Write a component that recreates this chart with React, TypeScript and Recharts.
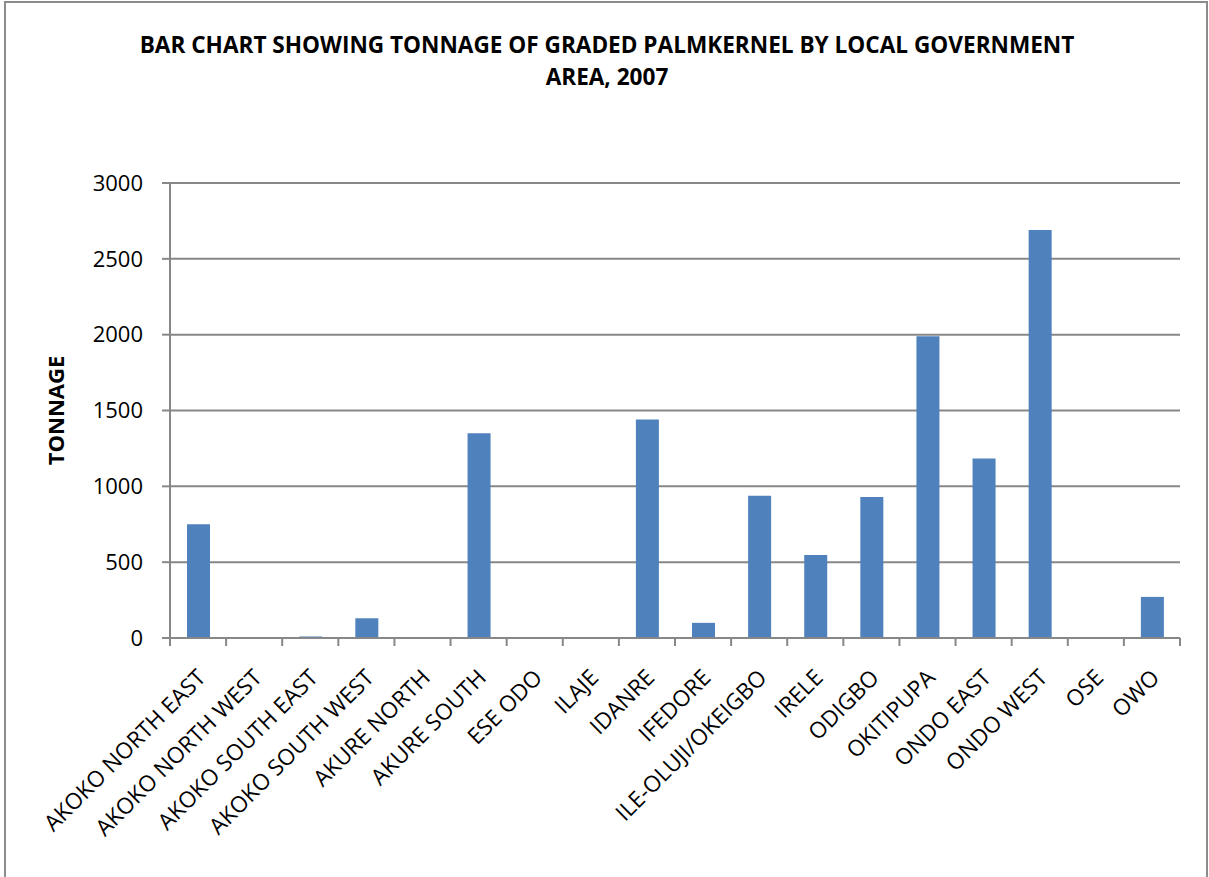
import { BarChart, Bar, XAxis, YAxis, CartesianGrid } from 'recharts';

const areas = [
  'AKOKO NORTH EAST',
  'AKOKO NORTH WEST',
  'AKOKO SOUTH EAST',
  'AKOKO SOUTH WEST',
  'AKURE NORTH',
  'AKURE SOUTH',
  'ESE ODO',
  'ILAJE',
  'IDANRE',
  'IFEDORE',
  'ILE-OLUJI/OKEIGBO',
  'IRELE',
  'ODIGBO',
  'OKITIPUPA',
  'ONDO EAST',
  'ONDO WEST',
  'OSE',
  'OWO',
];

const tonnage = [750, 0, 10, 130, 0, 1350, 0, 0, 1440, 100, 938, 548, 930, 1990, 1183, 2690, 0, 271];

const yTicks = [0, 500, 1000, 1500, 2000, 2500, 3000];

const data = areas.map((name, i) => ({ name, value: tonnage[i] }));

const FONT = '"Open Sans", "Noto Sans", sans-serif';
const GRID = '#878787';
const PLOT_LEFT = 170;
const PLOT_RIGHT = 1180;
const BAND = (PLOT_RIGHT - PLOT_LEFT) / areas.length;

// category labels rotated 45deg, tick marks sit on the category boundaries
const CategoryTick = (props: any) => {
  const { x, y, payload, index } = props;
  const ax = x + 9;
  const ay = y + 41;
  return (
    <g>
      <line x1={x - BAND / 2} y1={y} x2={x - BAND / 2} y2={y + 8} stroke={GRID} strokeWidth={2} />
      {index === areas.length - 1 && (
        <line x1={x + BAND / 2} y1={y} x2={x + BAND / 2} y2={y + 8} stroke={GRID} strokeWidth={2} />
      )}
      <text
        x={ax}
        y={ay}
        textAnchor="end"
        transform={`rotate(-45, ${ax}, ${ay})`}
        fontFamily={FONT}
        fontSize={22.5}
        fill="#000"
      >
        {payload.value}
      </text>
    </g>
  );
};

export default function App() {
  return (
    <div style={{ position: 'absolute', left: 0, top: 0, width: 1209, height: 877, background: '#fff', overflow: 'hidden' }}>
      <div
        style={{
          position: 'absolute',
          left: 4,
          top: 1,
          width: 1200,
          height: 900,
          border: '2px solid #8c8c8c',
        }}
      />
      <div
        style={{
          position: 'absolute',
          left: 0,
          top: 29,
          width: 1214,
          textAlign: 'center',
          fontFamily: FONT,
          fontWeight: 700,
          fontSize: 22.6,
          lineHeight: '32px',
          color: '#000',
        }}
      >
        BAR CHART SHOWING TONNAGE OF GRADED PALMKERNEL BY LOCAL GOVERNMENT
        <br />
        AREA, 2007
      </div>
      <div style={{ position: 'absolute', left: 0, top: 0 }}>
        <BarChart width={1209} height={877} data={data} margin={{ top: 183, right: 29, bottom: 0, left: 0 }}>
          <CartesianGrid horizontal vertical={false} stroke={GRID} strokeWidth={2} />
          <XAxis
            dataKey="name"
            interval={0}
            height={239}
            axisLine={{ stroke: GRID, strokeWidth: 2 }}
            tickLine={false}
            tickSize={0}
            tickMargin={0}
            tick={<CategoryTick />}
          />
          <YAxis
            width={170}
            domain={[0, 3000]}
            ticks={yTicks}
            interval={0}
            axisLine={{ stroke: GRID, strokeWidth: 2 }}
            tickLine={{ stroke: GRID, strokeWidth: 2 }}
            tickSize={8}
            tickMargin={19}
            tick={{ fontFamily: FONT, fontSize: 22, fill: '#000' }}
            label={{
              value: 'TONNAGE',
              angle: -90,
              position: 'insideLeft',
              dx: 51,
              style: { fontFamily: FONT, fontSize: 22, fontWeight: 700, fill: '#000', textAnchor: 'middle' },
            }}
          />
          <Bar dataKey="value" fill="#4F81BD" barSize={23} isAnimationActive={false} />
        </BarChart>
      </div>
    </div>
  );
}
